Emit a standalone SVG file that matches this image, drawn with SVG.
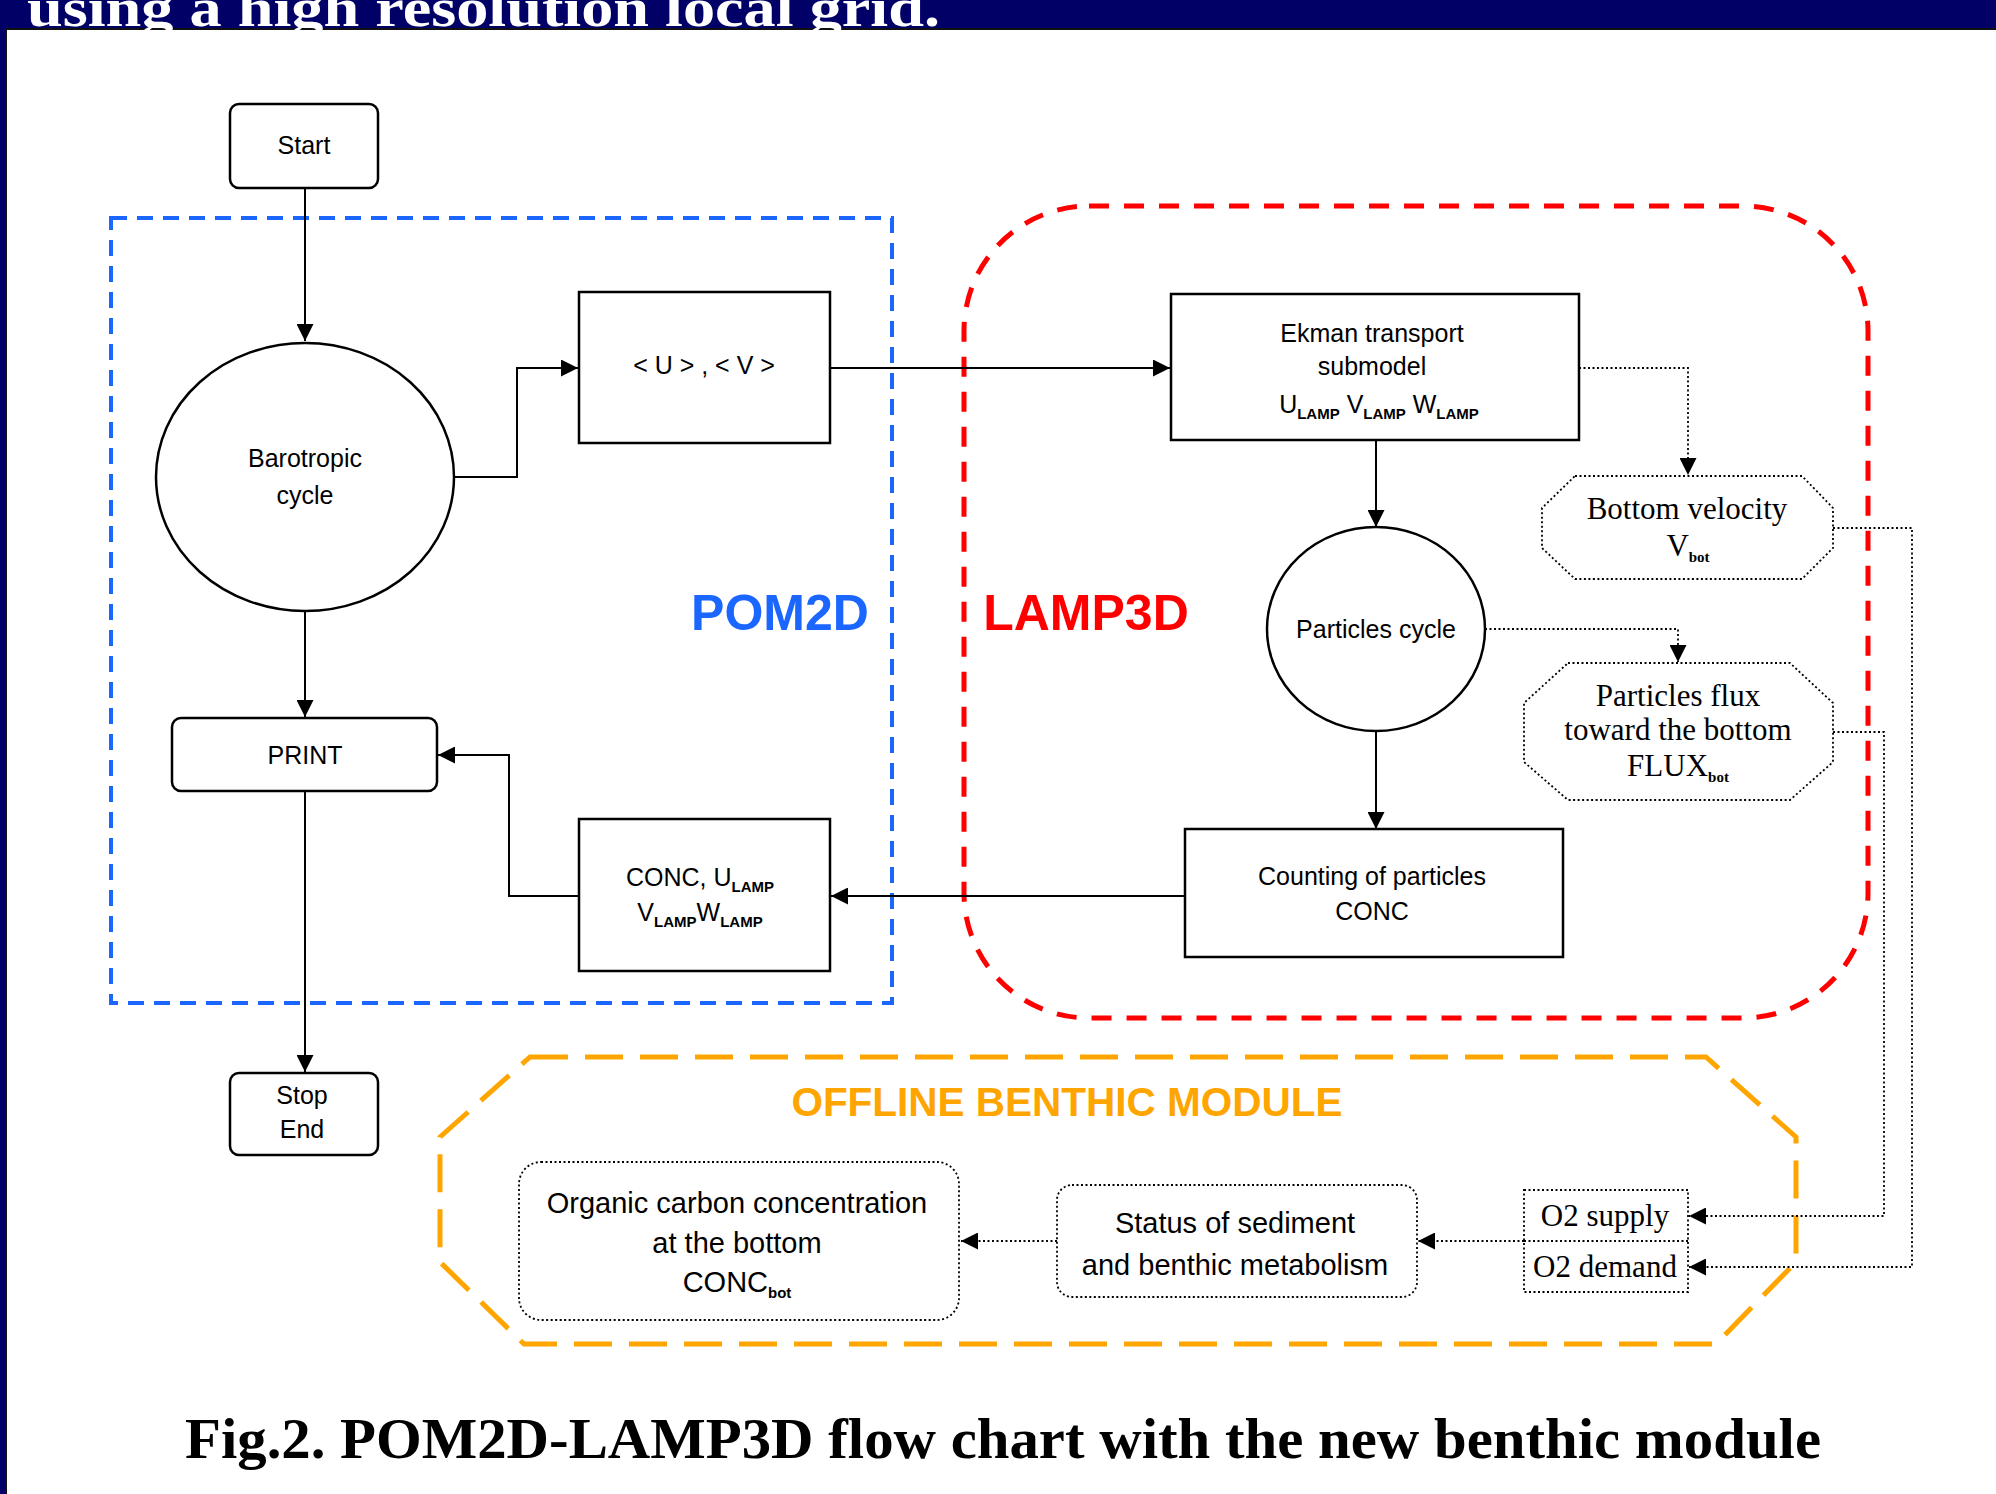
<svg xmlns="http://www.w3.org/2000/svg" width="1996" height="1494" viewBox="0 0 1996 1494">
<style>
.box{fill:#fff;stroke:#000;stroke-width:2.5}
.dbox{fill:#fff;stroke:#000;stroke-width:1.8;stroke-dasharray:2 2.5}
.ln{fill:none;stroke:#000;stroke-width:2}
.dl{fill:none;stroke:#000;stroke-width:1.8;stroke-dasharray:2 2.5}
.t{font-family:"Liberation Sans",Arial,sans-serif;font-size:25px;fill:#000;text-anchor:middle}
.b{font-family:"Liberation Sans",Arial,sans-serif;font-size:29px;fill:#000;text-anchor:middle}
.s{font-family:"Liberation Serif","Times New Roman",serif;font-size:31px;fill:#000;text-anchor:middle}
.sub{font-size:15px;font-weight:bold}
</style>
<defs>
<marker id="ah" viewBox="0 0 10 10" markerUnits="userSpaceOnUse" markerWidth="20" markerHeight="17" refX="10" refY="5" orient="auto">
<path d="M0,0 L10,5 L0,10 z" fill="#000"/>
</marker>
</defs>
<rect x="0" y="0" width="1996" height="1494" fill="#fff"/>
<rect x="0" y="0" width="1996" height="29" fill="#000066"/>
<rect x="0" y="28" width="1996" height="2" fill="#111"/>
<rect x="0" y="0" width="5" height="1494" fill="#000066"/>
<rect x="5" y="29" width="2" height="1465" fill="#111"/>
<text x="27" y="26" font-family="'Liberation Serif','Times New Roman',serif" font-weight="bold" font-size="54" fill="#fff" textLength="913" lengthAdjust="spacingAndGlyphs">using a high resolution local grid.</text>

<g id="regions">
<rect x="111" y="218" width="781" height="785" fill="none" stroke="#1a66ff" stroke-width="4" stroke-dasharray="16 10"/>
<rect x="964" y="206" width="904" height="812" rx="125" ry="125" fill="none" stroke="#ff0000" stroke-width="5" stroke-dasharray="20 15"/>
<polygon points="530,1057 1706,1057 1796,1137 1796,1262 1716,1344 524,1344 440,1262 440,1137" fill="none" stroke="#ffa500" stroke-width="5" stroke-dasharray="38 17"/>
<text x="780" y="630" font-family="'Liberation Sans',Arial,sans-serif" font-weight="bold" font-size="50" fill="#1a66ff" text-anchor="middle">POM2D</text>
<text x="1086" y="630" font-family="'Liberation Sans',Arial,sans-serif" font-weight="bold" font-size="50" fill="#ff0000" text-anchor="middle">LAMP3D</text>
<text x="1067" y="1116" font-family="'Liberation Sans',Arial,sans-serif" font-weight="bold" font-size="40.5" fill="#ffa500" text-anchor="middle">OFFLINE BENTHIC MODULE</text>
</g>

<g id="connectors">
<path class="ln" d="M305,188 L305,341" marker-end="url(#ah)"/>
<path class="ln" d="M455,477 L517,477 L517,368 L578,368" marker-end="url(#ah)"/>
<path class="ln" d="M830,368 L1170,368" marker-end="url(#ah)"/>
<path class="ln" d="M1376,440 L1376,527" marker-end="url(#ah)"/>
<path class="ln" d="M1376,732 L1376,829" marker-end="url(#ah)"/>
<path class="ln" d="M1185,896 L831,896" marker-end="url(#ah)"/>
<path class="ln" d="M579,896 L509,896 L509,755 L438,755" marker-end="url(#ah)"/>
<path class="ln" d="M305,611 L305,717" marker-end="url(#ah)"/>
<path class="ln" d="M305,791 L305,1072" marker-end="url(#ah)"/>
<path class="dl" d="M1579,368 L1688,368 L1688,475" marker-end="url(#ah)"/>
<path class="dl" d="M1485,629 L1678,629 L1678,662" marker-end="url(#ah)"/>
<path class="dl" d="M1833,528 L1912,528 L1912,1267 L1689,1267" marker-end="url(#ah)"/>
<path class="dl" d="M1833,732 L1884,732 L1884,1216 L1689,1216" marker-end="url(#ah)"/>
<path class="dl" d="M1524,1241 L1418,1241" marker-end="url(#ah)"/>
<path class="dl" d="M1057,1241 L961,1241" marker-end="url(#ah)"/>
</g>

<g id="start">
<rect class="box" x="230" y="104" width="148" height="84" rx="9"/>
<text class="t" x="304" y="154">Start</text>
</g>
<g id="barotropic">
<ellipse class="box" cx="305" cy="477" rx="149" ry="134"/>
<text class="t" x="305" y="467">Barotropic</text>
<text class="t" x="305" y="504">cycle</text>
</g>
<g id="uv">
<rect class="box" x="579" y="292" width="251" height="151"/>
<text class="t" x="704" y="374">&lt; U &gt; , &lt; V &gt;</text>
</g>
<g id="print">
<rect class="box" x="172" y="718" width="265" height="73" rx="9"/>
<text class="t" x="305" y="764">PRINT</text>
</g>
<g id="stop">
<rect class="box" x="230" y="1073" width="148" height="82" rx="9"/>
<text class="t" x="302" y="1104">Stop</text>
<text class="t" x="302" y="1138">End</text>
</g>
<g id="concbox">
<rect class="box" x="579" y="819" width="251" height="152"/>
<text class="t" x="700" y="886">CONC, U<tspan class="sub" dy="6">LAMP</tspan></text>
<text class="t" x="700" y="921">V<tspan class="sub" dy="6">LAMP</tspan><tspan dy="-6">W</tspan><tspan class="sub" dy="6">LAMP</tspan></text>
</g>
<g id="ekman">
<rect class="box" x="1171" y="294" width="408" height="146"/>
<text class="t" x="1372" y="342">Ekman transport</text>
<text class="t" x="1372" y="375">submodel</text>
<text class="t" x="1379" y="413">U<tspan class="sub" dy="6">LAMP</tspan><tspan dy="-6"> V</tspan><tspan class="sub" dy="6">LAMP</tspan><tspan dy="-6"> W</tspan><tspan class="sub" dy="6">LAMP</tspan></text>
</g>
<g id="particles">
<ellipse class="box" cx="1376" cy="629" rx="109" ry="102"/>
<text class="t" x="1376" y="638">Particles cycle</text>
</g>
<g id="counting">
<rect class="box" x="1185" y="829" width="378" height="128"/>
<text class="t" x="1372" y="885">Counting of particles</text>
<text class="t" x="1372" y="920">CONC</text>
</g>
<g id="bottomvel">
<polygon class="dbox" points="1575,476 1802,476 1833,508 1833,548 1802,579 1575,579 1542,548 1542,508"/>
<text class="s" x="1687" y="519">Bottom velocity</text>
<text class="s" x="1688" y="556">V<tspan class="sub" dy="6">bot</tspan></text>
</g>
<g id="flux">
<polygon class="dbox" points="1568,663 1790,663 1833,703 1833,762 1790,800 1568,800 1524,762 1524,703"/>
<text class="s" x="1678" y="706">Particles flux</text>
<text class="s" x="1678" y="740">toward the bottom</text>
<text class="s" x="1678" y="776">FLUX<tspan class="sub" dy="6">bot</tspan></text>
</g>
<g id="organic">
<rect class="dbox" x="519" y="1162" width="440" height="158" rx="22"/>
<text class="b" x="737" y="1213">Organic carbon concentration</text>
<text class="b" x="737" y="1253">at the bottom</text>
<text class="b" x="737" y="1292">CONC<tspan class="sub" dy="6">bot</tspan></text>
</g>
<g id="status">
<rect class="dbox" x="1057" y="1185" width="360" height="112" rx="15"/>
<text class="b" x="1235" y="1233">Status of sediment</text>
<text class="b" x="1235" y="1275">and benthic metabolism</text>
</g>
<g id="o2">
<rect class="dbox" x="1524" y="1190" width="164" height="102"/>
<line class="dl" x1="1524" y1="1241" x2="1688" y2="1241"/>
<text class="s" x="1605" y="1226" font-size="29">O2 supply</text>
<text class="s" x="1605" y="1277" font-size="29">O2 demand</text>
</g>
<text x="185" y="1458" font-family="'Liberation Serif','Times New Roman',serif" font-weight="bold" font-size="56" fill="#000" textLength="1636" lengthAdjust="spacingAndGlyphs">Fig.2. POM2D-LAMP3D flow chart with the new benthic module</text>
</svg>
